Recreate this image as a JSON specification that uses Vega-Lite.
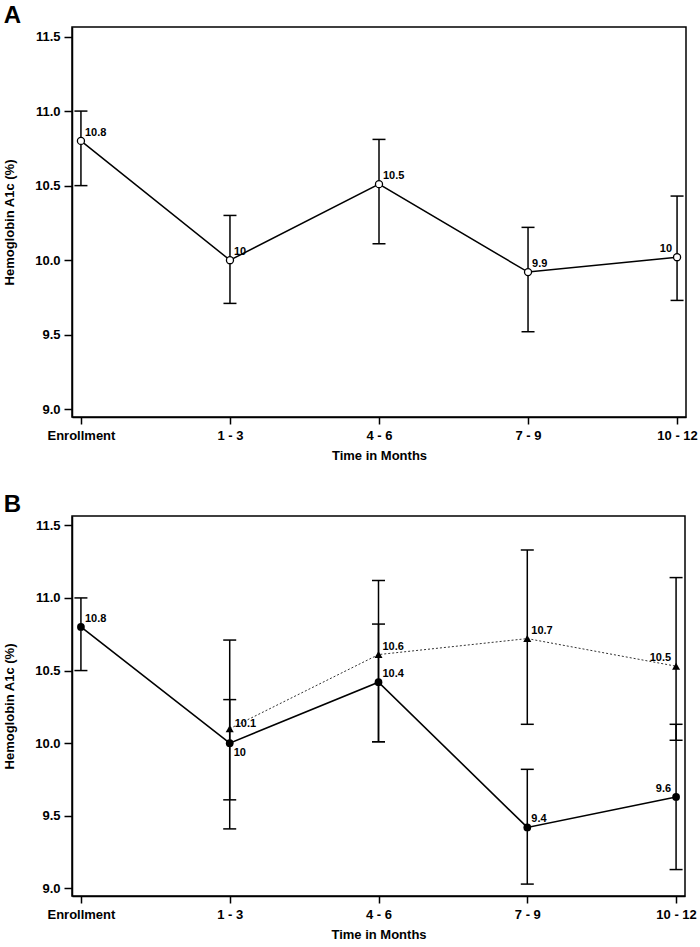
{
  "$schema": "https://vega.github.io/schema/vega-lite/v6.json",
  "padding": {"left": 2, "top": 3, "right": 5, "bottom": 0},
  "background": "white",
  "config": {
    "font": "Liberation Sans",
    "view": {"stroke": "black", "strokeWidth": 1.5},
    "axis": {
      "domainColor": "black", "domainWidth": 1.5,
      "tickColor": "black", "tickWidth": 1.5,
      "labelColor": "black", "titleColor": "black",
      "labelFont": "Liberation Sans", "titleFont": "Liberation Sans",
      "labelFontSize": 13, "labelFontWeight": "bold",
      "titleFontSize": 13, "titleFontWeight": "bold",
      "grid": false
    },
    "axisX": {"tickSize": 7, "labelPadding": 5, "titlePadding": 7, "labelAngle": 0},
    "axisY": {"tickSize": 8, "labelPadding": 4, "titlePadding": 18},
    "title": {"fontSize": 24, "fontWeight": "bold", "anchor": "start", "frame": "bounds", "color": "black", "font": "Liberation Sans", "offset": -1},
    "concat": {"spacing": 29}
  },
  "datasets": {
    "a": [
      {"time": "Enrollment", "mean": 10.8, "lo": 10.5, "hi": 11.0, "label": "10.8"},
      {"time": "1 - 3", "mean": 10.0, "lo": 9.71, "hi": 10.3, "label": "10"},
      {"time": "4 - 6", "mean": 10.51, "lo": 10.11, "hi": 10.81, "label": "10.5"},
      {"time": "7 - 9", "mean": 9.92, "lo": 9.52, "hi": 10.22, "label": "9.9"},
      {"time": "10 - 12", "mean": 10.02, "lo": 9.73, "hi": 10.43, "label": "10"}
    ],
    "b": [
      {"time": "Enrollment", "group": "Group 1", "mean": 10.8, "lo": 10.5, "hi": 11.0, "label": "10.8"},
      {"time": "1 - 3", "group": "Group 1", "mean": 10.0, "lo": 9.61, "hi": 10.3, "label": "10"},
      {"time": "4 - 6", "group": "Group 1", "mean": 10.42, "lo": 10.01, "hi": 10.82, "label": "10.4"},
      {"time": "7 - 9", "group": "Group 1", "mean": 9.42, "lo": 9.03, "hi": 9.82, "label": "9.4"},
      {"time": "10 - 12", "group": "Group 1", "mean": 9.63, "lo": 9.13, "hi": 10.13, "label": "9.6"},
      {"time": "1 - 3", "group": "Group 2", "mean": 10.1, "lo": 9.41, "hi": 10.71, "label": "10.1"},
      {"time": "4 - 6", "group": "Group 2", "mean": 10.61, "lo": 10.01, "hi": 11.12, "label": "10.6"},
      {"time": "7 - 9", "group": "Group 2", "mean": 10.72, "lo": 10.13, "hi": 11.33, "label": "10.7"},
      {"time": "10 - 12", "group": "Group 2", "mean": 10.53, "lo": 10.02, "hi": 11.14, "label": "10.5"}
    ]
  },
  "vconcat": [
    {
      "title": {"text": "A"},
      "width": 614,
      "height": 390,
      "data": {"name": "a"},
      "encoding": {
        "x": {"field": "time", "type": "ordinal", "sort": ["Enrollment", "1 - 3", "4 - 6", "7 - 9", "10 - 12"],
              "scale": {"type": "point", "padding": 0.06}, "axis": {"title": "Time in Months"}}
      },
      "layer": [
        {
          "mark": {"type": "rule", "strokeWidth": 1.5, "color": "black"},
          "encoding": {
            "y": {"field": "lo", "type": "quantitative", "title": "Hemoglobin A1c (%)",
                  "scale": {"domain": [8.948, 11.564], "nice": false, "zero": false},
                  "axis": {"values": [9, 9.5, 10, 10.5, 11, 11.5], "format": ".1f"}},
            "y2": {"field": "hi"}
          }
        },
        {"mark": {"type": "tick", "size": 13, "thickness": 1.5, "color": "black", "opacity": 1},
         "encoding": {"y": {"field": "lo", "type": "quantitative", "title": "Hemoglobin A1c (%)"}}},
        {"mark": {"type": "tick", "size": 13, "thickness": 1.5, "color": "black", "opacity": 1},
         "encoding": {"y": {"field": "hi", "type": "quantitative", "title": "Hemoglobin A1c (%)"}}},
        {"mark": {"type": "line", "color": "black", "strokeWidth": 1.5},
         "encoding": {"y": {"field": "mean", "type": "quantitative", "title": "Hemoglobin A1c (%)"}}},
        {"mark": {"type": "point", "shape": "circle", "filled": true, "fill": "white", "size": 50, "color": "black", "stroke": "black", "strokeWidth": 1.3, "opacity": 1},
         "encoding": {"y": {"field": "mean", "type": "quantitative", "title": "Hemoglobin A1c (%)"}}},
        {"transform": [{"filter": "datum.time !== '10 - 12'"}],
         "mark": {"type": "text", "align": "left", "baseline": "alphabetic", "dx": 4, "dy": -5, "fontSize": 11, "fontWeight": "bold", "color": "black"},
         "encoding": {"y": {"field": "mean", "type": "quantitative", "title": "Hemoglobin A1c (%)"}, "text": {"field": "label"}}},
        {"transform": [{"filter": "datum.time === '10 - 12'"}],
         "mark": {"type": "text", "align": "right", "baseline": "alphabetic", "dx": -5, "dy": -5, "fontSize": 11, "fontWeight": "bold", "color": "black"},
         "encoding": {"y": {"field": "mean", "type": "quantitative", "title": "Hemoglobin A1c (%)"}, "text": {"field": "label"}}}
      ]
    },
    {
      "title": {"text": "B"},
      "width": 613,
      "height": 380,
      "data": {"name": "b"},
      "encoding": {
        "x": {"field": "time", "type": "ordinal", "sort": ["Enrollment", "1 - 3", "4 - 6", "7 - 9", "10 - 12"],
              "scale": {"type": "point", "padding": 0.06}, "axis": {"title": "Time in Months"}}
      },
      "layer": [
        {
          "mark": {"type": "rule", "strokeWidth": 1.5, "color": "black"},
          "encoding": {
            "y": {"field": "lo", "type": "quantitative", "title": "Hemoglobin A1c (%)",
                  "scale": {"domain": [8.948, 11.564], "nice": false, "zero": false},
                  "axis": {"values": [9, 9.5, 10, 10.5, 11, 11.5], "format": ".1f"}},
            "y2": {"field": "hi"},
            "detail": {"field": "group"}
          }
        },
        {"mark": {"type": "tick", "size": 13, "thickness": 1.5, "color": "black", "opacity": 1},
         "encoding": {"y": {"field": "lo", "type": "quantitative", "title": "Hemoglobin A1c (%)"}}},
        {"mark": {"type": "tick", "size": 13, "thickness": 1.5, "color": "black", "opacity": 1},
         "encoding": {"y": {"field": "hi", "type": "quantitative", "title": "Hemoglobin A1c (%)"}}},
        {"transform": [{"filter": "datum.group === 'Group 2'"}],
         "mark": {"type": "line", "color": "#333333", "strokeWidth": 1, "strokeDash": [2, 2]},
         "encoding": {"y": {"field": "mean", "type": "quantitative", "title": "Hemoglobin A1c (%)"}}},
        {"transform": [{"filter": "datum.group === 'Group 1'"}],
         "mark": {"type": "line", "color": "black", "strokeWidth": 1.6},
         "encoding": {"y": {"field": "mean", "type": "quantitative", "title": "Hemoglobin A1c (%)"}}},
        {"transform": [{"filter": "datum.group === 'Group 2'"}],
         "mark": {"type": "point", "shape": "triangle-up", "filled": true, "size": 65, "color": "black", "opacity": 1},
         "encoding": {"y": {"field": "mean", "type": "quantitative", "title": "Hemoglobin A1c (%)"}}},
        {"transform": [{"filter": "datum.group === 'Group 1'"}],
         "mark": {"type": "point", "shape": "circle", "filled": true, "size": 60, "color": "black", "opacity": 1},
         "encoding": {"y": {"field": "mean", "type": "quantitative", "title": "Hemoglobin A1c (%)"}}},
        {"transform": [{"filter": "datum.time !== '10 - 12' && datum.time !== '1 - 3'"}],
         "mark": {"type": "text", "align": "left", "baseline": "alphabetic", "dx": 4, "dy": -5, "fontSize": 11, "fontWeight": "bold", "color": "black"},
         "encoding": {"y": {"field": "mean", "type": "quantitative", "title": "Hemoglobin A1c (%)"}, "text": {"field": "label"}}},
        {"transform": [{"filter": "datum.time === '1 - 3' && datum.group === 'Group 2'"}],
         "mark": {"type": "text", "align": "left", "baseline": "alphabetic", "dx": 5, "dy": -2, "fontSize": 11, "fontWeight": "bold", "color": "black"},
         "encoding": {"y": {"field": "mean", "type": "quantitative", "title": "Hemoglobin A1c (%)"}, "text": {"field": "label"}}},
        {"transform": [{"filter": "datum.time === '1 - 3' && datum.group === 'Group 1'"}],
         "mark": {"type": "text", "align": "left", "baseline": "alphabetic", "dx": 4, "dy": 13, "fontSize": 11, "fontWeight": "bold", "color": "black"},
         "encoding": {"y": {"field": "mean", "type": "quantitative", "title": "Hemoglobin A1c (%)"}, "text": {"field": "label"}}},
        {"transform": [{"filter": "datum.time === '10 - 12'"}],
         "mark": {"type": "text", "align": "right", "baseline": "alphabetic", "dx": -5, "dy": -5, "fontSize": 11, "fontWeight": "bold", "color": "black"},
         "encoding": {"y": {"field": "mean", "type": "quantitative", "title": "Hemoglobin A1c (%)"}, "text": {"field": "label"}}}
      ]
    }
  ]
}
